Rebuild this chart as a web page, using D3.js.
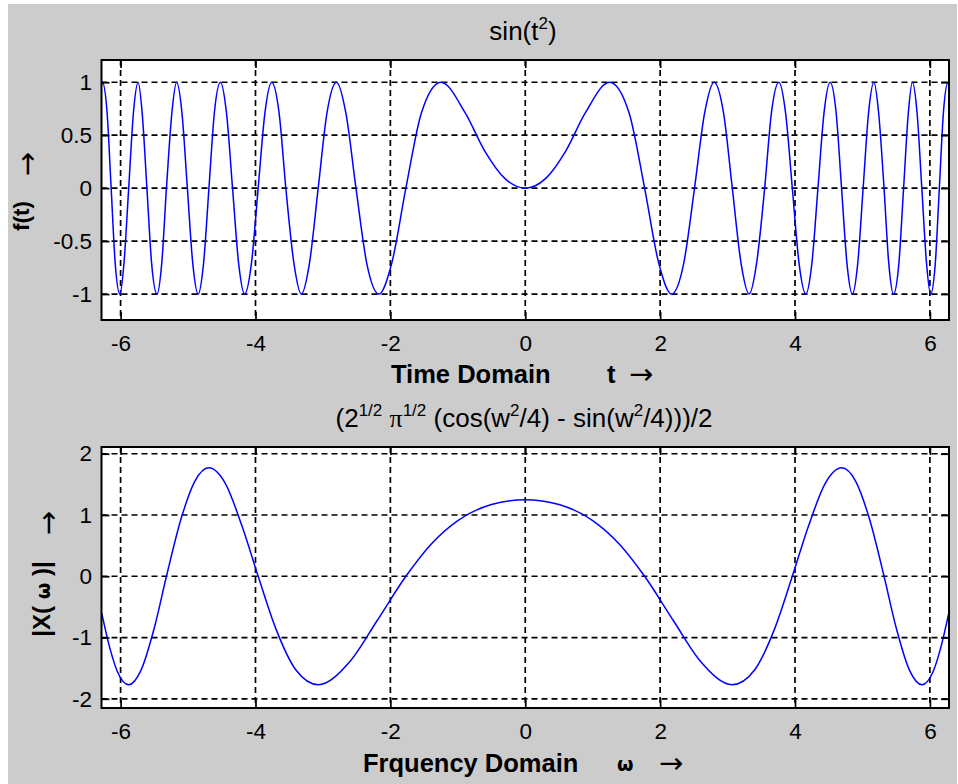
<!DOCTYPE html>
<html>
<head>
<meta charset="utf-8">
<script src="https://cdn.jsdelivr.net/npm/d3@7"></script>
<style>
  html, body { margin: 0; padding: 0; background: #ffffff; }
  svg { display: block; }
</style>
</head>
<body>
<svg id="chart" width="958" height="784" font-family="Liberation Sans, Arial, sans-serif"></svg>
<script>
// ---------------- data ----------------
const xTicks = [-6, -4, -2, 0, 2, 4, 6];
const topYTicks = [-1, -0.5, 0, 0.5, 1];
const botYTicks = [-2, -1, 0, 1, 2];

// Time domain: sin(t^2)
const timeT = [
  -6.28, -6.27, -6.2, -6.14, -6.08, -6.01, -5.95, -5.88, -5.81, -5.74, -5.68, -5.61,
  -5.54, -5.46, -5.39, -5.32, -5.24, -5.17, -5.09, -5.01, -4.93, -4.85, -4.77, -4.69,
  -4.61, -4.52, -4.43, -4.34, -4.25, -4.16, -4.06, -3.96, -3.86, -3.76, -3.65, -3.55,
  -3.43, -3.32, -3.2, -3.07, -2.94, -2.8, -2.66, -2.51, -2.35, -2.17, -1.98, -1.77,
  -1.54, -1.25, -0.89, -0.6, -0.3, 0,
  0.3, 0.6, 0.89, 1.25, 1.54, 1.77, 1.98, 2.17, 2.35, 2.51, 2.66, 2.8, 2.94, 3.07,
  3.2, 3.32, 3.43, 3.55, 3.65, 3.76, 3.86, 3.96, 4.06, 4.16, 4.25, 4.34, 4.43, 4.52,
  4.61, 4.69, 4.77, 4.85, 4.93, 5.01, 5.09, 5.17, 5.24, 5.32, 5.39, 5.46, 5.54, 5.61,
  5.68, 5.74, 5.81, 5.88, 5.95, 6.01, 6.08, 6.14, 6.2, 6.27, 6.28
];
const timeF = [
  0.98, 1, 0.71, 0, -0.71, -1, -0.71, 0, 0.71, 1, 0.71, 0,
  -0.71, -1, -0.71, 0, 0.71, 1, 0.71, 0, -0.71, -1, -0.71, 0,
  0.71, 1, 0.71, 0, -0.71, -1, -0.71, 0, 0.71, 1, 0.71, 0,
  -0.71, -1, -0.71, 0, 0.71, 1, 0.71, 0, -0.71, -1, -0.71, 0,
  0.71, 1, 0.71, 0.35, 0.09, 0,
  0.09, 0.35, 0.71, 1, 0.71, 0, -0.71, -1, -0.71, 0, 0.71, 1, 0.71, 0,
  -0.71, -1, -0.71, 0, 0.71, 1, 0.71, 0, -0.71, -1, -0.71, 0, 0.71, 1,
  0.71, 0, -0.71, -1, -0.71, 0, 0.71, 1, 0.71, 0, -0.71, -1, -0.71, 0,
  0.71, 1, 0.71, 0, -0.71, -1, -0.71, 0, 0.71, 1, 0.98
];

// Frequency domain
const freqW = [
  -6.28, -6.15, -6.05, -5.88, -5.7, -5.5, -5.32, -5.1, -4.9, -4.69, -4.45, -4.2,
  -3.96, -3.7, -3.4, -3.07, -2.6, -2.2, -1.77, -1.4, -1, -0.5, 0,
  0.5, 1, 1.4, 1.77, 2.2, 2.6, 3.07, 3.4, 3.7, 3.96, 4.2, 4.45, 4.69, 4.9, 5.1,
  5.32, 5.5, 5.7, 5.88, 6.05, 6.15, 6.28
];
const freqX = [
  -0.6, -1.21, -1.55, -1.77, -1.54, -0.84, 0, 0.95, 1.55, 1.77, 1.52, 0.82,
  0, -0.85, -1.53, -1.77, -1.39, -0.73, 0, 0.52, 0.91, 1.17, 1.25,
  1.17, 0.91, 0.52, 0, -0.73, -1.39, -1.77, -1.53, -0.85, 0, 0.82, 1.52, 1.77, 1.55, 0.95,
  0, -0.84, -1.54, -1.77, -1.55, -1.21, -0.6
];

// ---------------- drawing ----------------
const SANS = "Liberation Sans, Arial, sans-serif";
const ARROW_FONT = "DejaVu Sans, sans-serif";
const svg = d3.select("#chart");
svg.append("rect").attr("x", 8).attr("y", 4).attr("width", 949).attr("height", 780)
  .attr("fill", "#cccccc");

const L = 101.5, R = 949;
const xScale = d3.scaleLinear().domain([-2 * Math.PI, 2 * Math.PI]).range([L, R]);

function panel(opts) {
  const { top, bottom, yDomain, yTicks, xs, ys } = opts;
  const y = d3.scaleLinear().domain(yDomain).range([bottom, top]);
  const g = svg.append("g");

  g.append("rect").attr("x", L).attr("y", top).attr("width", R - L).attr("height", bottom - top)
    .attr("fill", "#ffffff");

  // grid
  const grid = g.append("g").attr("stroke", "#000").attr("stroke-width", 1.7)
    .attr("stroke-dasharray", "6,4");
  xTicks.forEach(v => grid.append("line")
    .attr("x1", xScale(v)).attr("x2", xScale(v)).attr("y1", top).attr("y2", bottom));
  yTicks.forEach(v => grid.append("line")
    .attr("x1", L).attr("x2", R).attr("y1", y(v)).attr("y2", y(v)));

  // curve
  const pts = xs.map((v, i) => [v, ys[i]]);
  g.append("path").datum(pts)
    .attr("fill", "none").attr("stroke", "#0000ff").attr("stroke-width", 1.5)
    .attr("d", d3.line().x(d => xScale(d[0])).y(d => y(d[1])).curve(d3.curveMonotoneX));

  const fmt = d => String(d);
  // axes with inward ticks
  const ab = g.append("g").attr("transform", `translate(0,${bottom})`)
    .call(d3.axisBottom(xScale).tickValues(xTicks).tickSize(-8).tickPadding(15.5).tickFormat(fmt));
  const at = g.append("g").attr("transform", `translate(0,${top})`)
    .call(d3.axisTop(xScale).tickValues(xTicks).tickSize(-8).tickFormat(""));
  const al = g.append("g").attr("transform", `translate(${L},0)`)
    .call(d3.axisLeft(y).tickValues(yTicks).tickSize(-8).tickPadding(9.5).tickFormat(fmt));
  const ar = g.append("g").attr("transform", `translate(${R},0)`)
    .call(d3.axisRight(y).tickValues(yTicks).tickSize(-8).tickFormat(""));
  [ab, at, al, ar].forEach(a => {
    a.select(".domain").remove();
    a.selectAll("line").attr("stroke", "#000").attr("stroke-width", 1.7);
    a.attr("font-family", SANS).attr("font-size", 22.5);
    a.selectAll("text").attr("fill", "#000");
  });

  // box
  g.append("rect").attr("x", L).attr("y", top).attr("width", R - L).attr("height", bottom - top)
    .attr("fill", "none").attr("stroke", "#000").attr("stroke-width", 2);
  return y;
}

panel({ top: 60, bottom: 320, yDomain: [-1.245, 1.21], yTicks: topYTicks, xs: timeT, ys: timeF });
panel({ top: 447, bottom: 708, yDomain: [-2.15, 2.11], yTicks: botYTicks, xs: freqW, ys: freqX });

// ---------------- titles & labels ----------------
function txt(x, y, str, size, opt = {}) {
  const t = svg.append("text").attr("x", x).attr("y", y).attr("font-size", size)
    .attr("fill", "#000").style("font-family", opt.family || SANS).text(str);
  if (opt.bold) t.style("font-weight", "bold");
  if (opt.anchor) t.attr("text-anchor", opt.anchor);
  return t;
}

// top title sin(t^2)
const t1 = svg.append("text").attr("x", 523).attr("y", 40).attr("text-anchor", "middle")
  .attr("font-size", 26).style("font-family", SANS);
t1.append("tspan").text("sin(t");
t1.append("tspan").attr("font-size", 17).attr("dy", -11).text("2");
t1.append("tspan").attr("dy", 11).text(")");

// bottom title
const t2 = svg.append("text").attr("x", 524).attr("y", 427).attr("text-anchor", "middle")
  .attr("font-size", 26).style("font-family", SANS);
t2.append("tspan").text("(2");
t2.append("tspan").attr("font-size", 17).attr("dy", -11).text("1/2");
t2.append("tspan").attr("dy", 11).text(" ");
t2.append("tspan").style("font-family", "Liberation Serif, serif").text("π");
t2.append("tspan").attr("font-size", 17).attr("dy", -11).text("1/2");
t2.append("tspan").attr("dy", 11).text(" (cos(w");
t2.append("tspan").attr("font-size", 17).attr("dy", -11).text("2");
t2.append("tspan").attr("dy", 11).text("/4) - sin(w");
t2.append("tspan").attr("font-size", 17).attr("dy", -11).text("2");
t2.append("tspan").attr("dy", 11).text("/4)))/2");

// x labels
txt(391, 383, "Time Domain", 25.5, { bold: true });
txt(607, 383, "t", 25.5, { bold: true });
txt(629, 384, "→", 29, { family: ARROW_FONT });

txt(363, 772, "Frquency Domain", 25.5, { bold: true });
txt(617, 771, "ω", 19, { bold: true, family: ARROW_FONT });
txt(659, 773, "→", 29, { family: ARROW_FONT });

// y labels (rotated)
function rot(x, yPos, str, size, opt = {}) {
  const t = svg.append("text").attr("transform", `translate(${x},${yPos}) rotate(-90)`)
    .attr("text-anchor", "middle").attr("font-size", size).attr("fill", "#000")
    .style("font-family", opt.family || SANS).text(str);
  if (opt.bold) t.style("font-weight", "bold");
  return t;
}
rot(29, 216, "f(t)", 22.5, { bold: true });
rot(37, 164, "→", 29, { family: ARROW_FONT });
const yl2 = svg.append("text").attr("transform", `translate(50,599) rotate(-90)`)
  .attr("text-anchor", "middle").attr("font-size", 24).style("font-family", SANS)
  .style("font-weight", "bold");
yl2.append("tspan").text("|X( ");
yl2.append("tspan").attr("font-size", 19).style("font-family", ARROW_FONT).text("ω");
yl2.append("tspan").text(" )|");
rot(58, 523, "→", 29, { family: ARROW_FONT });
</script>
</body>
</html>
